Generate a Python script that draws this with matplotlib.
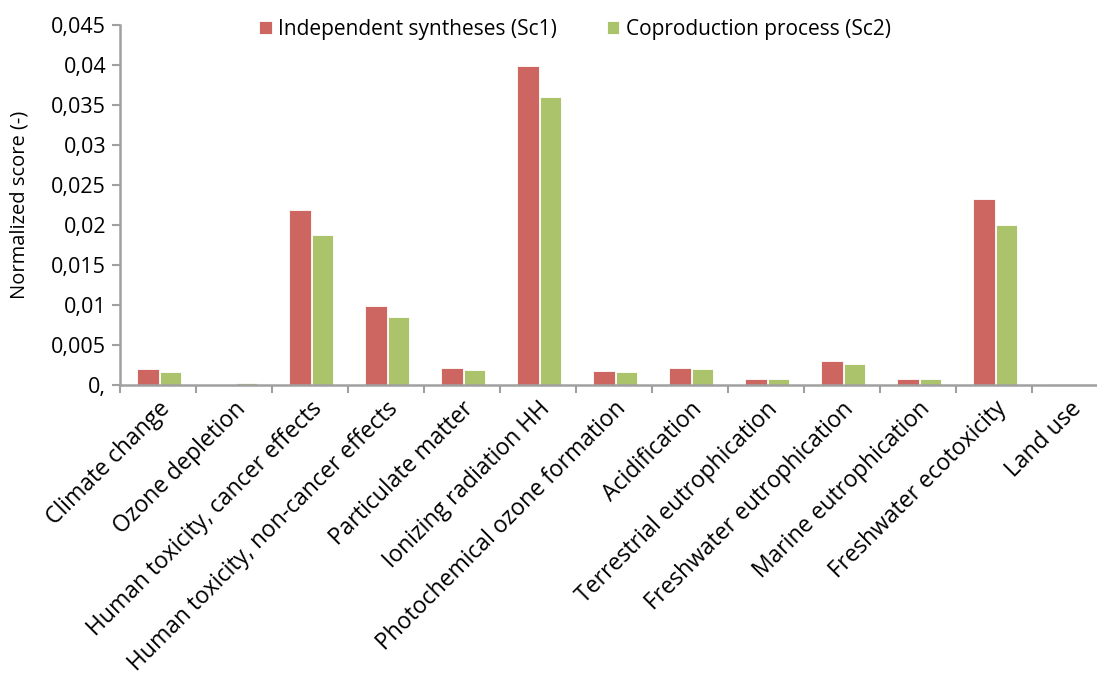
import matplotlib.pyplot as plt
import numpy as np
from matplotlib.ticker import FixedLocator

plt.rcParams["font.family"] = ["Open Sans", "DejaVu Sans"]

categories = [
    "Climate change", "Ozone depletion", "Human toxicity, cancer effects",
    "Human toxicity, non-cancer effects", "Particulate matter",
    "Ionizing radiation HH", "Photochemical ozone formation", "Acidification",
    "Terrestrial eutrophication", "Freshwater eutrophication",
    "Marine eutrophication", "Freshwater ecotoxicity", "Land use",
]
sc1 = [0.00194, 0.0, 0.02184, 0.00988, 0.00203, 0.0399, 0.0017, 0.00206,
       0.00065, 0.00294, 0.00065, 0.0232, 0.00002]
sc2 = [0.0016, 0.00019, 0.01871, 0.00846, 0.00181, 0.0360, 0.00156, 0.0019,
       0.0007, 0.00253, 0.0007, 0.01996, 0.00003]
yticks = [0, 0.005, 0.01, 0.015, 0.02, 0.025, 0.03, 0.035, 0.04, 0.045]
ytick_labels = ["0,", "0,005", "0,01", "0,015", "0,02", "0,025", "0,03",
                "0,035", "0,04", "0,045"]

red = "#CD6560"
green = "#ABC46B"
grey = "#A0A0A0"

fig = plt.figure(figsize=(10.97, 6.85), dpi=100)
ax = fig.add_axes([120 / 1097, 1 - 384.5 / 685, 988 / 1097, 359.5 / 685])

x = np.arange(len(categories))
w = 0.28
ax.bar(x - w / 2 + 0.01, sc1, w, color=red, edgecolor="white", linewidth=0.6,
       label="Independent syntheses (Sc1)")
ax.bar(x + w / 2 + 0.025, sc2, w, color=green, edgecolor="white", linewidth=0.6,
       label="Coproduction process (Sc2)")

ax.set_xlim(-0.5, len(categories) - 0.5)
ax.set_ylim(0, 0.045)
ax.set_yticks(yticks)
ax.set_yticklabels(ytick_labels)

ax.set_xticks(x)
ax.set_xticklabels(categories, rotation=45, ha="right", rotation_mode="anchor",
                   fontsize=16.5)
ax.xaxis.set_minor_locator(FixedLocator(np.arange(-0.5, len(categories), 1)))
ax.tick_params(axis="x", which="major", length=0, pad=9)
ax.tick_params(axis="x", which="minor", length=6, width=1.5, color=grey, direction="out")
ax.tick_params(axis="y", length=6, width=1.5, color=grey, direction="out",
               labelsize=15.5, pad=4)

for s in ["top", "right"]:
    ax.spines[s].set_visible(False)
for s in ["left", "bottom"]:
    ax.spines[s].set_color(grey)
    ax.spines[s].set_linewidth(1.8)

ax.set_ylabel("Normalized score (-)", fontsize=14.5)
ax.yaxis.set_label_coords(-0.092, 0.5)

fig.legend(loc="center", bbox_to_anchor=(575 / 1097, 1 - 29 / 685), ncol=2,
           frameon=False, fontsize=15, handlelength=0.6, handleheight=0.6,
           handletextpad=0.3, columnspacing=2.4)

fig.savefig("out.png", dpi=100)
